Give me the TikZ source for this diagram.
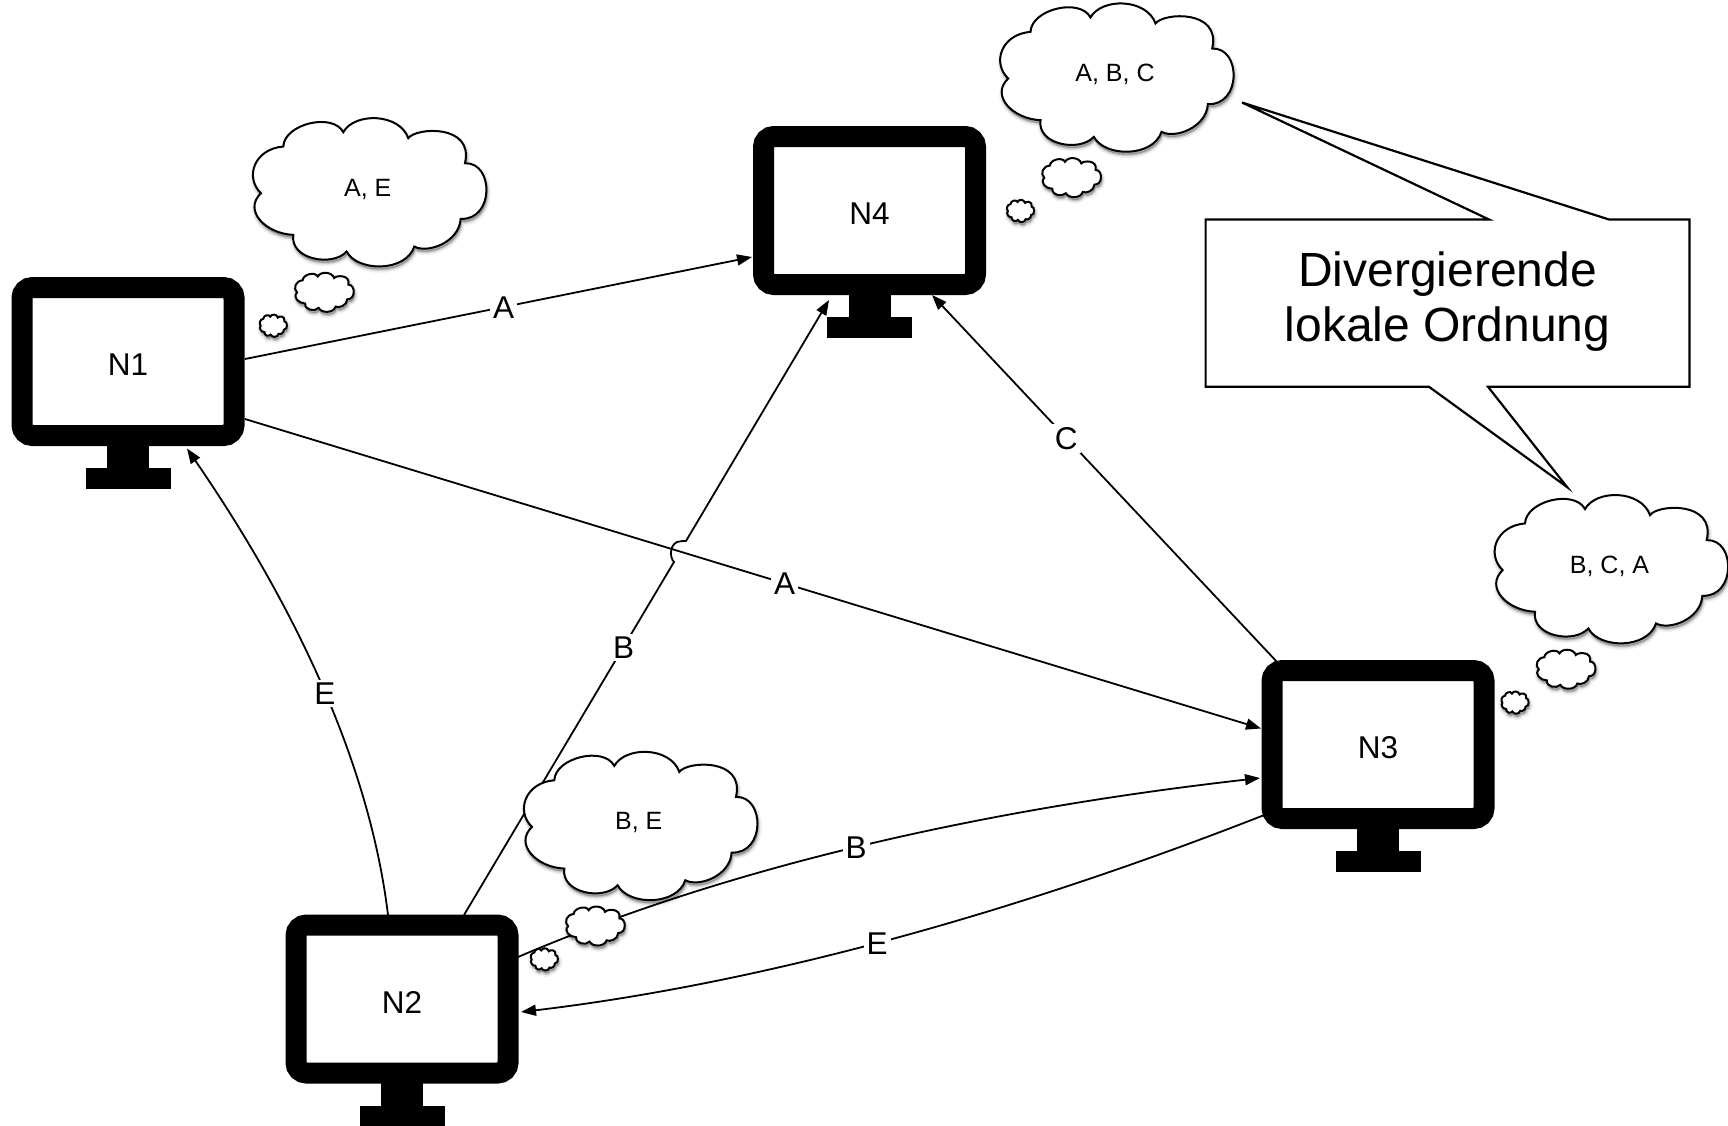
\documentclass[tikz,border=0pt]{standalone}
\usepackage{fontspec}
\setmainfont{Liberation Sans}
\usetikzlibrary{calc,arrows.meta}
\tikzset{
  screenbox/.style={draw=black,fill=white,line width=21pt,rounded corners=10.5pt,
    minimum width=212pt,minimum height=148pt,inner sep=0pt,text height=28pt,text depth=0pt,font=\fontsize{31.5}{36}\selectfont},
  edgeline/.style={line width=1.8pt,draw=black,-{Triangle[length=15pt,width=11pt]}},
  edgelabel/.style={fill=white,inner sep=3pt,yshift=-0.8pt,text=black,font=\fontsize{31.5}{36}\selectfont},
  cloudtext/.style={inner sep=0pt,font=\fontsize{25}{30}\selectfont},
  calloutline/.style={line width=2.2pt,draw=black,fill=white,line join=miter},
  cloudline/.style={line width=2pt,draw=black,fill=white,
    preaction={fill=black,draw=black,opacity=.05,line width=7pt,transform canvas={shift={(1pt,-3pt)}}},
    preaction={fill=black,draw=black,opacity=.08,line width=4pt,transform canvas={shift={(1pt,-3pt)}}},
    preaction={fill=black,draw=black,opacity=.12,line width=2pt,transform canvas={shift={(1pt,-3pt)}}}},
  cloudpath/.style={insert path={
    (-78,-180) .. controls (-45,-240) and (90,-238) .. (117,-162)
    .. controls (140,-195) and (315,-205) .. (287,-87)
    .. controls (375,-90) and (375,85) .. (274,80)
    .. controls (270,150) and (175,185) .. (135,163)
    .. controls (110,240) and (-35,240) .. (-68,178)
    .. controls (-110,225) and (-239,202) .. (-228,128)
    .. controls (-310,125) and (-380,55) .. (-325,3)
    .. controls (-375,-45) and (-345,-130) .. (-258,-137)
    .. controls (-255,-205) and (-110,-240) .. (-78,-180) -- cycle}}
}
\newcommand\monitorbox[3]{%
  \fill ($(#2)+(-21,84)$) rectangle ($(#2)+(21,107)$);
  \fill ($(#2)+(-42.5,106.5)$) rectangle ($(#2)+(42.5,127.5)$);
  \node[screenbox] (#1) at (#2) {#3};
}
\newcommand\thoughtcloud[3]{%
  \path[cloudline,shift={(#2)},shift={(0,1.5)},scale=0.3333,cloudpath];
  \path[cloudline,shift={(#2)},shift={(-45,101.6)},xscale=0.0838,yscale=0.0877,cloudpath];
  \path[cloudline,shift={(#2)},shift={(-96,135)},xscale=0.0388,yscale=0.05,cloudpath];
  \node[cloudtext] (#1) at ($(#2)+(-1.5,-1.5)$) {#3};
}
\begin{document}
\begin{tikzpicture}[x=1pt,y=-1pt]
\useasboundingbox (0,0) rectangle (1728,1125);
\fill[white] (0,0) rectangle (1728,1125);

\monitorbox{n1}{128,361.5}{N1}
\monitorbox{n4}{869.5,210.5}{N4}
\monitorbox{n3}{1378,744.5}{N3}
\monitorbox{n2}{402,999}{N2}

\coordinate (bridgeA) at (674,562);
\coordinate (bridgeB) at (677,542);
\coordinate (bridgeC) at (686,541);

\draw[edgeline] ($(n1)+(117,-2.5)$) -- node[edgelabel,pos=.51] (la1) {A} ($(n4)+(-117.5,46.5)$);
\draw[edgeline] ($(n1)+(117,57.5)$) -- node[edgelabel,pos=.531] (la2) {A} ($(n3)+(-117,-16)$);
\draw[edgeline] ($(n3)+(-100,-81.5)$) -- node[edgelabel,pos=.612] (lc) {C} ($(n4)+(62.5,84.5)$);
\draw[edgeline] ($(n2)+(62,-84)$) -- node[edgelabel,pos=.76] (lb1) {B} (bridgeA)
  .. controls (670,558) and (669,546) .. (bridgeB)
  .. controls (680,541) and (683,541) .. (bridgeC)
  -- ($(n4)+(-40.5,89.5)$);
\draw[edgeline] ($(n2)+(-14,-84)$) .. controls ($(n2)+(-31,-225)$) and ($(n1)+(176,257.5)$) .. node[edgelabel,pos=.5] (le1) {E} ($(n1)+(59,87)$);
\draw[edgeline] ($(n2)+(116,-42)$) .. controls ($(n2)+(319,-129)$) and ($(n3)+(-409,66.5)$) .. node[edgelabel,pos=.5] (lb2) {B} ($(n3)+(-118,33.5)$);
\draw[edgeline] ($(n3)+(-115,71)$) .. controls ($(n3)+(-382,175.5)$) and ($(n2)+(346,-14)$) .. node[edgelabel,pos=.5] (le2) {E} ($(n2)+(119,13)$);

\thoughtcloud{c1}{369.3,190.7}{A, E}
\thoughtcloud{c4}{1116.5,76}{A, B, C}
\thoughtcloud{c3}{1611,567.6}{B, C, A}
\thoughtcloud{c2}{640.3,824.4}{B, E}

\draw[calloutline] (1205.6,219.5) -- (1489,219.5) -- (1242,102.5) -- (1609,219.5) -- (1689.5,219.5)
  -- (1689.5,386.8) -- (1488,386.8) -- (1567,487) -- (1429,386.8) -- (1205.6,386.8) -- cycle;
\node[align=center,inner sep=0pt,font=\fontsize{48}{55}\selectfont] (callout) at (1447.5,301.5) {Divergierende\\lokale Ordnung};
\end{tikzpicture}
\end{document}
